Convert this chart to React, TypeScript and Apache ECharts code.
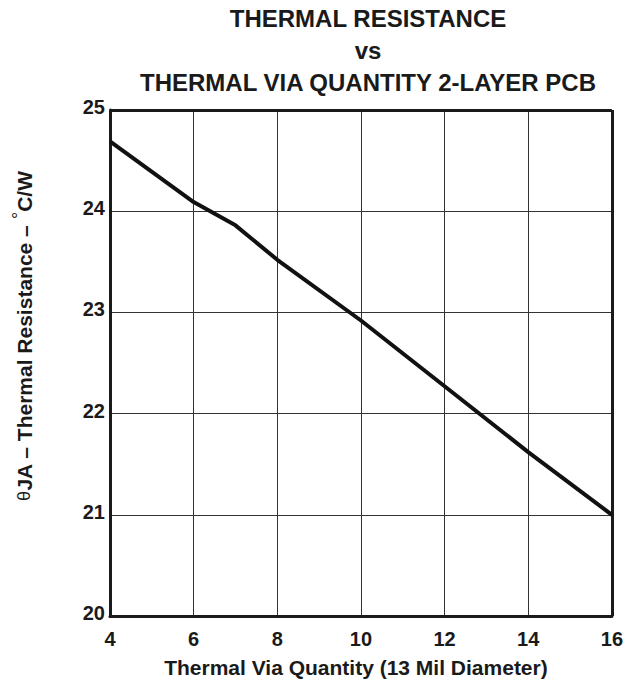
import React, { useEffect, useRef } from "react";
import * as echarts from "echarts";

const viaQuantity = [4, 6, 7, 8, 10, 12, 14, 16];
const thetaJA = [24.69, 24.09, 23.86, 23.52, 22.92, 22.27, 21.62, 21.0];
const titleLines = ["THERMAL RESISTANCE", "vs", "THERMAL VIA QUANTITY 2-LAYER PCB"];
const xName = "Thermal Via Quantity (13 Mil Diameter)";
const yName = "{t|θ}JA – Thermal Resistance – {d|°}C/W";

const FONT = "'Liberation Sans', Arial, Helvetica, sans-serif";
const INK = "#1a1a1a";

export default function App() {
  const ref = useRef<HTMLDivElement>(null);
  useEffect(() => {
    document.body.style.margin = "0";
    const chart = echarts.init(ref.current!, null, { renderer: "svg" });
    const titleTop = [1, 33, 65];
    const boldLabel = { fontFamily: FONT, fontSize: 20, fontWeight: "bold", color: INK };
    chart.setOption({
      animation: false,
      backgroundColor: "#ffffff",
      textStyle: { fontFamily: FONT },
      title: titleLines.map((t, i) => ({
        text: t,
        left: 363,
        top: titleTop[i],
        textAlign: "center",
        textStyle: { fontFamily: FONT, fontSize: 24, fontWeight: "bold", color: INK },
      })),
      grid: { left: 110, top: 110, right: 10, bottom: 68, containLabel: false },
      xAxis: {
        type: "value",
        min: 4,
        max: 16,
        interval: 2,
        name: xName,
        nameLocation: "middle",
        nameGap: 41,
        nameTextStyle: { fontFamily: FONT, fontSize: 21, fontWeight: "bold", color: INK, padding: [0, 10, 0, 0] },
        axisLine: { show: true, lineStyle: { color: INK, width: 3 } },
        axisTick: { show: false },
        axisLabel: {
          margin: 13,
          ...boldLabel,
          formatter: (v: number) => `{b|${v}}`,
          rich: { b: boldLabel },
        },
        splitLine: { show: true, lineStyle: { color: "#333", width: 1 } },
      },
      yAxis: {
        type: "value",
        min: 20,
        max: 25,
        interval: 1,
        name: yName,
        nameLocation: "middle",
        nameGap: 72,
        nameTextStyle: {
          fontFamily: FONT,
          fontSize: 21,
          fontWeight: "bold",
          color: INK,
          padding: [0, 0, 0, 54],
          rich: {
            t: { fontFamily: FONT, fontSize: 18, fontWeight: "normal", color: INK },
            d: { fontFamily: FONT, fontSize: 18, fontWeight: "normal", color: INK, padding: [0, 0, 10, 0] },
          },
        },
        axisLine: { show: true, lineStyle: { color: INK, width: 3 } },
        axisTick: { show: false },
        axisLabel: {
          margin: 5,
          ...boldLabel,
          verticalAlign: "middle",
          padding: [0, 0, 6, 0],
          formatter: (v: number) => `{b|${v}}`,
          rich: { b: boldLabel },
        },
        splitLine: { show: true, lineStyle: { color: "#333", width: 1 } },
      },
      series: [
        {
          type: "line",
          data: viaQuantity.map((x, i) => [x, thetaJA[i]]),
          showSymbol: false,
          lineStyle: { color: "#111", width: 4 },
          z: 5,
        },
        {
          type: "line",
          data: [],
          markLine: {
            silent: true,
            symbol: "none",
            label: { show: false },
            lineStyle: { color: INK, width: 3, type: "solid" },
            data: [[{ coord: [4, 25] }, { coord: [16, 25] }], [{ coord: [16, 20] }, { coord: [16, 25] }]],
          },
        },
      ],
    });
    return () => chart.dispose();
  }, []);
  return <div ref={ref} style={{ position: "fixed", left: 0, top: 0, width: 626, height: 684 }} />;
}
